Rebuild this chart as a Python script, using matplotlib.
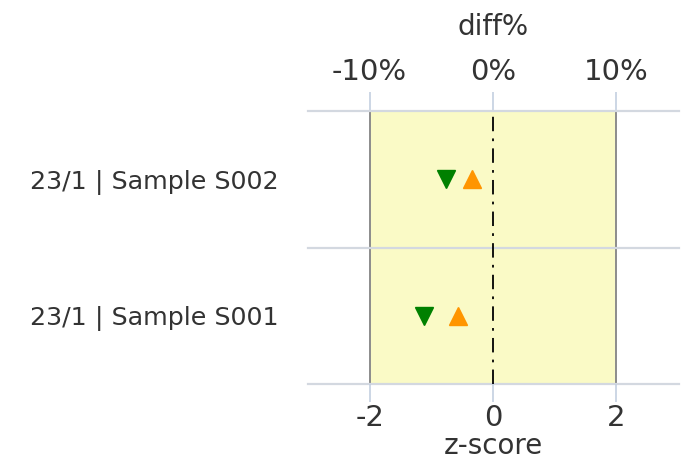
import matplotlib
matplotlib.use("Agg")
import matplotlib.pyplot as plt
from matplotlib.ticker import FuncFormatter

# data
samples = ["23/1 | Sample S001", "23/1 | Sample S002"]
z_down = [-1.11, -0.76]   # green, down triangles
z_up = [-0.56, -0.34]     # orange, up triangles
z_ticks = [-2, 0, 2]
pct_ticks = [-10, 0, 10]
PCT_PER_Z = 5.0

GRID = "#d3d8e0"
TICK = "#c3cfe0"
TXT = "#333333"

plt.rcParams["font.family"] = "DejaVu Sans"

fig = plt.figure(figsize=(6.9, 4.66), dpi=100)
ax = fig.add_axes([308 / 690, 1 - 384.3 / 466, (679 - 308) / 690, (384.3 - 110.7) / 466])

ypos = list(range(len(samples)))
ax.set_xlim(-3.0, 3.02)
ax.set_ylim(-0.5, len(samples) - 0.5)

# yellow acceptance band between -2 and 2
ax.axvspan(-2, 2, color="#fafac6", zorder=0, lw=0)
for x in (-2, 2):
    ax.axvline(x, color="#8c8c8c", lw=1.4, zorder=1)
ax.axvline(0, color="black", lw=1.3, ls="-.", dashes=(8, 4, 1.5, 4), zorder=2)

for yb in [y - 0.5 for y in ypos] + [ypos[-1] + 0.5]:
    ax.axhline(yb, color=GRID, lw=1.6, zorder=1.5, clip_on=False)

ax.plot(z_down, ypos, "v", ms=13.5, color="#008000", ls="None", zorder=3)
ax.plot(z_up, ypos, "^", ms=13.5, color="#ff9500", ls="None", zorder=3)

for s in ax.spines.values():
    s.set_visible(False)

ax.set_yticks(ypos)
ax.set_yticklabels(samples, fontsize=18.3, color=TXT)
ax.tick_params(axis="y", length=0, pad=21)

ax.set_xticks(z_ticks)
ax.set_xticklabels([str(t) for t in z_ticks])
ax.tick_params(axis="x", length=13, width=1.2, color=TICK, labelsize=21,
               labelcolor=TXT, pad=1)
ax.set_xlabel("z-score", fontsize=20, color=TXT, labelpad=0)

top = ax.secondary_xaxis("top", functions=(lambda z: z * PCT_PER_Z, lambda p: p / PCT_PER_Z))
top.set_xticks(pct_ticks)
top.xaxis.set_major_formatter(FuncFormatter(lambda v, _: f"{v:.0f}%"))
top.tick_params(axis="x", length=14, width=1.2, color=TICK, labelsize=21,
                labelcolor=TXT, pad=4)
top.spines["top"].set_visible(False)
top.set_xlabel("diff%", fontsize=20, color=TXT, labelpad=16)

fig.savefig("out.png", dpi=100)
